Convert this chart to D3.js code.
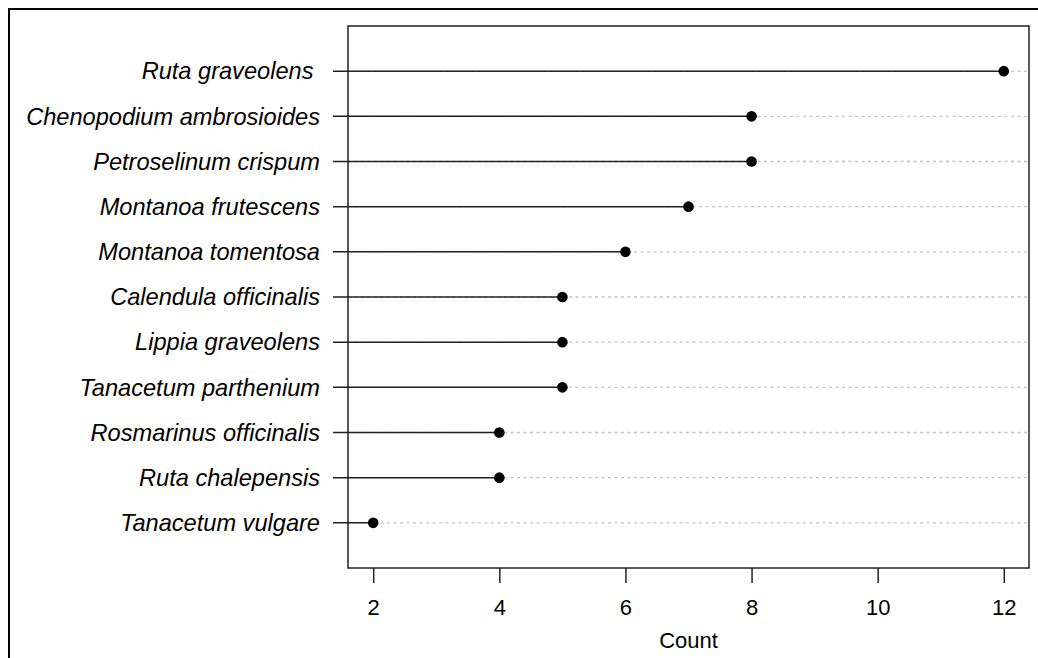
<!DOCTYPE html>
<html>
  <head>
    <meta charset="utf-8">
    <title>Dot chart</title>
    <style>
    body{
      margin: 0;
      background: #fff;
    }
    text{
      font-family: Arial, "Liberation Sans", sans-serif;
      fill: #000;
    }
    </style>
    <script src="https://d3js.org/d3.v7.min.js"></script>
  </head>
  <body>
    <div id="container"></div>
    <script>
    //size of the page
    const width = 1038,
          height = 658;

    //species, from top to bottom, and their counts
    var species = ["Ruta graveolens ", "Chenopodium ambrosioides", "Petroselinum crispum",
      "Montanoa frutescens", "Montanoa tomentosa", "Calendula officinalis",
      "Lippia graveolens", "Tanacetum parthenium", "Rosmarinus officinalis",
      "Ruta chalepensis", "Tanacetum vulgare"];
    var counts = [12, 8, 8, 7, 6, 5, 5, 5, 4, 4, 2];
    var xTicks = [2, 4, 6, 8, 10, 12];

    //plot box
    var box = {left: 348, right: 1029, top: 26, bottom: 568};

    var svg = d3.select("#container")
      .append("svg")
      .attr("width", width)
      .attr("height", height);

    //outer frame
    svg.append("rect")
      .attr("x", 9)
      .attr("y", 9)
      .attr("width", width + 20)
      .attr("height", height + 20)
      .attr("fill", "none")
      .attr("stroke", "#000")
      .attr("stroke-width", 2);

    //x goes a little past the data like R does (4%)
    var x = d3.scaleLinear()
      .domain([1.6, 12.4])
      .range([box.left, box.right]);

    //dotchart puts row i at i, with ylim 0..n+1
    var y = d3.scaleLinear()
      .domain([0, species.length + 1])
      .range([box.bottom, box.top]);

    function rowY(d, i){
      return y(species.length - i);
    }

    //grey dotted guide lines across the whole box
    svg.selectAll("line.guide")
      .data(species)
      .enter()
      .append("line")
      .attr("class", "guide")
      .attr("x1", box.left)
      .attr("x2", box.right)
      .attr("y1", rowY)
      .attr("y2", rowY)
      .attr("stroke", "#c4c4c4")
      .attr("stroke-width", 1.3)
      .attr("stroke-dasharray", "3,3.5");

    //solid lines from the axis tick to the dot
    svg.selectAll("line.stem")
      .data(counts)
      .enter()
      .append("line")
      .attr("class", "stem")
      .attr("x1", box.left - 15)
      .attr("x2", function(d) {return x(d);})
      .attr("y1", rowY)
      .attr("y2", rowY)
      .attr("stroke", "#222")
      .attr("stroke-width", 1.5);

    svg.selectAll("circle")
      .data(counts)
      .enter()
      .append("circle")
      .attr("cx", function(d) {return x(d);})
      .attr("cy", rowY)
      .attr("r", 5.3)
      .attr("fill", "#000");

    //species labels
    svg.selectAll("text.label")
      .data(species)
      .enter()
      .append("text")
      .attr("class", "label")
      .attr("x", 320)
      .attr("y", rowY)
      .attr("dy", "0.35em")
      .attr("text-anchor", "end")
      .attr("font-size", 23.6)
      .attr("font-style", "italic")
      .style("white-space", "pre")
      .text(function(d) {return d;});

    //bottom axis
    var xAxis = d3.axisBottom(x)
      .tickValues(xTicks)
      .tickSize(15)
      .tickPadding(16)
      .tickFormat(d3.format("d"));

    var gx = svg.append("g")
      .attr("transform", "translate(0," + box.bottom + ")")
      .call(xAxis);
    gx.select(".domain").remove();
    gx.selectAll("line").attr("stroke", "#222").attr("stroke-width", 1.5);
    gx.selectAll("text")
      .attr("font-size", 22)
      .attr("font-family", "Arial, 'Liberation Sans', sans-serif")
      .attr("fill", "#000");

    //plot box border
    svg.append("rect")
      .attr("x", box.left)
      .attr("y", box.top)
      .attr("width", box.right - box.left)
      .attr("height", box.bottom - box.top)
      .attr("fill", "none")
      .attr("stroke", "#222")
      .attr("stroke-width", 1.5);

    svg.append("text")
      .attr("x", (box.left + box.right) / 2)
      .attr("y", 648)
      .attr("text-anchor", "middle")
      .attr("font-size", 22)
      .text("Count");
    </script>
  </body>
</html>
